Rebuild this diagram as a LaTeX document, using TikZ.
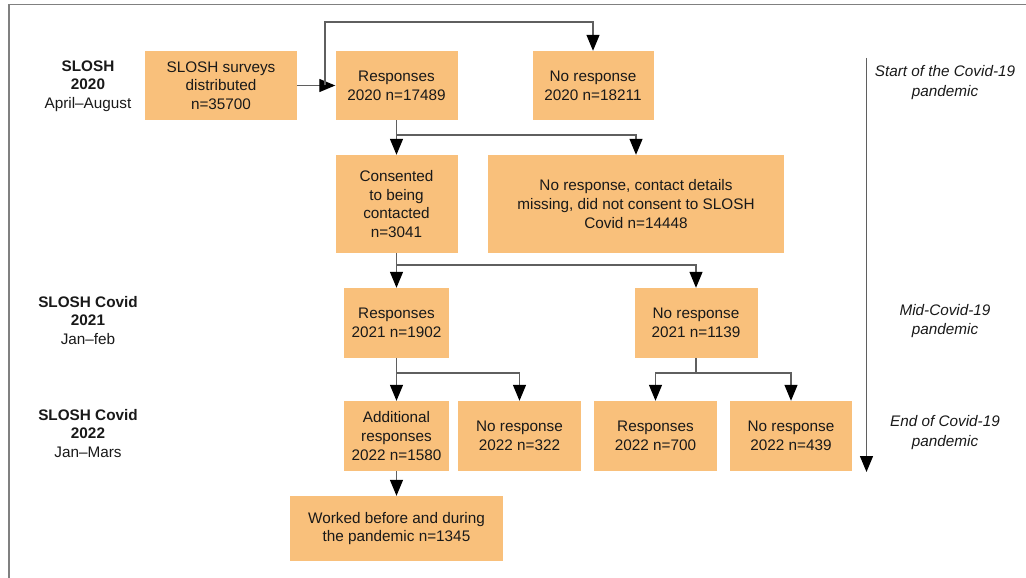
\documentclass[tikz,border=0pt]{standalone}
\usepackage{fontspec}
\setmainfont{Liberation Sans}
\usetikzlibrary{arrows.meta}
\definecolor{boxfill}{RGB}{249,192,123}
\definecolor{linegray}{RGB}{95,95,95}
\definecolor{framegray}{RGB}{128,128,128}
\begin{document}
\begin{tikzpicture}[x=1pt,y=-1pt,
  every node/.style={font=\fontsize{15.3}{18.7}\selectfont, text=black!90},
  fbox/.style={fill=boxfill, inner sep=0pt, align=center},
  lbl/.style={align=center, inner sep=0pt},
  arr/.style={draw=linegray, line width=1.3pt, -{Triangle[length=16pt,width=13pt,color=black]}},
  conn/.style={draw=linegray, line width=1.3pt},
  frameline/.style={draw=framegray, line width=1.6pt}]
\useasboundingbox (0,0) rectangle (1026,578);
% frame
\coordinate (fA) at (9,578);
\coordinate (fB) at (9,4.5);
\coordinate (fC) at (1026,4.5);
\draw[frameline] (fA) -- (fB) -- (fC);

% boxes
\node[fbox, minimum width=152pt, minimum height=69pt] (b1) at (221,85.5) {SLOSH surveys\\distributed\\n=35700};
\node[fbox, minimum width=122pt, minimum height=69pt] (b2) at (396.5,85.5) {Responses\\2020 n=17489};
\node[fbox, minimum width=121pt, minimum height=69pt] (b3) at (593,85.5) {No response\\2020 n=18211};
\node[fbox, minimum width=122pt, minimum height=98pt] (b4) at (396.5,204) {Consented\\to being\\contacted\\n=3041};
\node[fbox, minimum width=296pt, minimum height=98pt] (b5) at (636,204) {No response, contact details\\missing, did not consent to SLOSH\\Covid n=14448};
\node[fbox, minimum width=105pt, minimum height=70pt] (b6) at (396.5,323) {Responses\\2021 n=1902};
\node[fbox, minimum width=123pt, minimum height=70pt] (b7) at (696,323) {No response\\2021 n=1139};
\node[fbox, minimum width=105pt, minimum height=70pt] (b8) at (396.5,436) {Additional\\responses\\2022 n=1580};
\node[fbox, minimum width=123pt, minimum height=70pt] (b9) at (519.5,436) {No response\\2022 n=322};
\node[fbox, minimum width=123pt, minimum height=70pt] (b10) at (655.5,436) {Responses\\2022 n=700};
\node[fbox, minimum width=122pt, minimum height=70pt] (b11) at (791,436) {No response\\2022 n=439};
\node[fbox, minimum width=213pt, minimum height=65pt] (b12) at (396.5,528.5) {Worked before and during\\the pandemic n=1345};

% left labels
\node[lbl] (l1) at (88,86) {\textbf{SLOSH}\\\textbf{2020}\\April–August};
\node[lbl] (l2) at (88,320.5) {\textbf{SLOSH Covid}\\\textbf{2021}\\Jan–feb};
\node[lbl] (l3) at (88,433.5) {\textbf{SLOSH Covid}\\\textbf{2022}\\Jan–Mars};

% right labels
\node[lbl, font=\itshape\fontsize{15.3}{20}\selectfont] (r1) at (945,83) {Start of the Covid-19\\pandemic};
\node[lbl, font=\itshape\fontsize{15.3}{18.5}\selectfont] (r2) at (945,321) {Mid-Covid-19\\pandemic};
\node[lbl, font=\itshape\fontsize{15.3}{20}\selectfont] (r3) at (945,433) {End of Covid-19\\pandemic};

% timeline
\coordinate (tl1) at (866.5,58);
\coordinate (tl2) at (866.5,472);
\draw[arr] (tl1) -- (tl2);

% connectors
\draw[arr] (b1.east) -- (b2.west);
\coordinate (j1) at (325,85.5);
\coordinate (t1) at (325,22);
\draw[arr] (j1) -- (t1) -| (b3.north);

\draw[arr] (b2.south) -- (b4.north);
\coordinate (s1) at (396.5,135);
\draw[arr] (s1) -| (b5.north);

\draw[arr] (b4.south) -- (b6.north);
\coordinate (s2) at (396.5,265);
\draw[arr] (s2) -| (b7.north);

\draw[arr] (b6.south) -- (b8.north);
\coordinate (s3) at (396.5,373);
\draw[arr] (s3) -| (b9.north);

\coordinate (s4) at (696,373);
\draw[conn] (b7.south) -- (s4);
\draw[arr] (s4) -| (b10.north);
\draw[arr] (s4) -| (b11.north);

\draw[arr] (b8.south) -- (b12.north);
\end{tikzpicture}
\end{document}
